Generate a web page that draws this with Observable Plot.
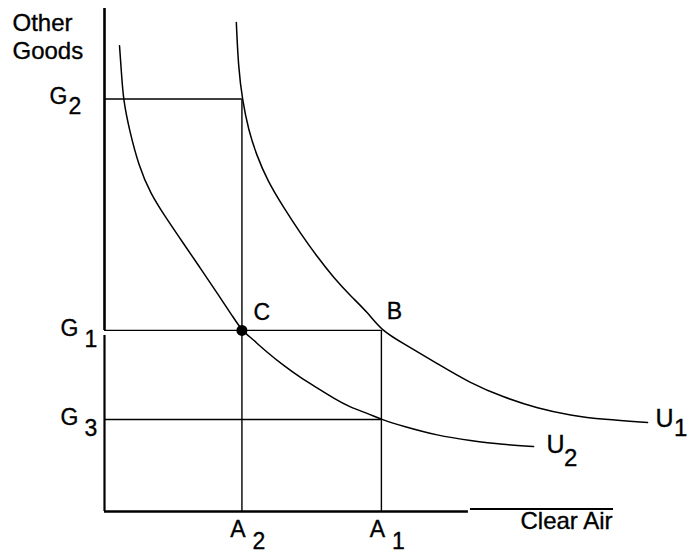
<!DOCTYPE html>
<html><head><meta charset="utf-8">
<script src="https://cdn.jsdelivr.net/npm/d3@7"></script>
<script src="https://cdn.jsdelivr.net/npm/@observablehq/plot@0.6"></script>
<style>body{margin:0;background:#fff} svg{display:block}</style>
</head><body><div id="chart"></div>
<script>
// Levels of "Other Goods" (y) and "Clear Air" (x), in chart units
const goodsNames = ["G", "G", "G"];
const goodsSubs = ["2", "1", "3"];
const goodsValues = [82, 36, 18.3];
const goodsGuideEnds = [27, 54.4, 54.4];   // each G line runs to this A level
const airNames = ["A", "A"];
const airSubs = ["2", "1"];
const airValues = [27, 54.4];
const airGuideEnds = [82, 36];             // each A line runs up to this G level

// Indifference curves
const u1X = [25.9, 26.3, 27.1, 28.3, 29.9, 32.0, 35.2, 38.5, 41.9, 45.0, 48.3, 51.7, 54.4, 58.7, 65.4, 71.9, 78.4, 85.1, 91.6, 98.0, 106.7];
const u1Y = [97.2, 88.3, 81.7, 75.8, 70.8, 65.8, 60.4, 55.3, 50.5, 46.5, 42.9, 39.6, 36.0, 33.4, 29.4, 25.5, 22.7, 20.5, 19.1, 18.3, 17.7];
const u2X = [2.95, 3.3, 3.7, 4.9, 6.7, 9.0, 12.4, 15.5, 18.9, 22.2, 25.3, 27.0, 28.7, 32.0, 35.2, 38.5, 41.9, 45.0, 48.3, 51.7, 54.4, 58.7, 65.4, 71.9, 78.4, 84.3];
const u2Y = [92.6, 87.7, 81.7, 75.8, 68.8, 63.2, 57.9, 53.3, 48.3, 43.3, 38.6, 36.0, 34.6, 31.6, 29.0, 26.6, 24.5, 22.5, 20.7, 19.5, 18.3, 16.9, 15.1, 14.1, 13.3, 12.9];
const curveNames = ["U", "U"];
const curveSubs = ["1", "2"];

// Labelled points
const pointNames = ["C", "B"];
const pointX = [27, 54.4];
const pointY = [36, 36];

const axisMax = 100;
const font = "'Liberation Sans', Arial, Helvetica, sans-serif";

const curveEnds = [
  {x: u1X[u1X.length - 1], y: u1Y[u1Y.length - 1]},
  {x: u2X[u2X.length - 1], y: u2Y[u2Y.length - 1]}
];
const idx = a => d3.range(a.length);
const ink = {fill: "#000", stroke: "#000", strokeWidth: 0.35};

const chart = Plot.plot({
  width: 690,
  height: 559,
  marginLeft: 104,
  marginRight: 77,
  marginTop: 8,
  marginBottom: 48,
  x: {domain: [0, axisMax], axis: null},
  y: {domain: [0, axisMax], axis: null},
  style: {background: "#fff", color: "#000", fontFamily: font, overflow: "visible"},
  marks: [
    // axes
    Plot.ruleX([0], {y1: 0, y2: 35, stroke: "#000", strokeWidth: 2.2}),
    Plot.ruleX([0], {y1: 36, y2: axisMax, stroke: "#000", strokeWidth: 2.6}),
    Plot.ruleY([0], {x1: 0, x2: 71.5, stroke: "#000", strokeWidth: 2.4}),
    Plot.ruleY([0.5], {x1: 71.9, x2: axisMax, stroke: "#000", strokeWidth: 2.2}),
    // guide lines
    Plot.ruleY(idx(goodsValues), {y: i => goodsValues[i], x1: 0, x2: i => goodsGuideEnds[i], stroke: "#000", strokeWidth: 1.4}),
    Plot.ruleX(idx(airValues), {x: i => airValues[i], y1: 0, y2: i => airGuideEnds[i], stroke: "#000", strokeWidth: 1.4}),
    // indifference curves
    Plot.line(idx(u1X), {x: i => u1X[i], y: i => u1Y[i], curve: "basis", stroke: "#000", strokeWidth: 1.5}),
    Plot.line(idx(u2X), {x: i => u2X[i], y: i => u2Y[i], curve: "basis", stroke: "#000", strokeWidth: 1.5}),
    // point C
    Plot.dot([0], {x: pointX[0], y: pointY[0], r: 5.5, fill: "#000", stroke: "none"}),
    // point labels
    Plot.text(idx(pointNames), {x: i => pointX[i], y: i => pointY[i], text: i => pointNames[i],
      filter: i => i === 0, dx: 20, dy: -18, fontSize: 23, ...ink}),
    Plot.text(idx(pointNames), {x: i => pointX[i], y: i => pointY[i], text: i => pointNames[i],
      filter: i => i === 1, dx: 13, dy: -19, fontSize: 23, ...ink}),
    // G labels
    Plot.text(idx(goodsValues), {x: 0, y: i => goodsValues[i], text: i => goodsNames[i],
      filter: i => i === 0, textAnchor: "end", dx: -37, dy: -2, fontSize: 23, ...ink}),
    Plot.text(idx(goodsValues), {x: 0, y: i => goodsValues[i], text: i => goodsSubs[i],
      filter: i => i === 0, textAnchor: "start", dx: -36, dy: 8, fontSize: 23, ...ink}),
    Plot.text(idx(goodsValues), {x: 0, y: i => goodsValues[i], text: i => goodsNames[i],
      filter: i => i > 0, textAnchor: "end", dx: -26, dy: -2, fontSize: 23, ...ink}),
    Plot.text(idx(goodsValues), {x: 0, y: i => goodsValues[i], text: i => goodsSubs[i],
      filter: i => i > 0, textAnchor: "start", dx: -20, dy: 9, fontSize: 23, ...ink}),
    // A labels
    Plot.text(idx(airValues), {x: i => airValues[i], y: 0, text: i => airNames[i],
      dx: -4, dy: 18, fontSize: 23, ...ink}),
    Plot.text(idx(airValues), {x: i => airValues[i], y: 0, text: i => airSubs[i],
      dx: 17, dy: 30, fontSize: 23, ...ink}),
    // U labels
    Plot.text(idx(curveNames), {x: i => curveEnds[i].x, y: i => curveEnds[i].y, text: i => curveNames[i],
      filter: i => i === 0, dx: 17, dy: -3, fontSize: 25, ...ink}),
    Plot.text(idx(curveNames), {x: i => curveEnds[i].x, y: i => curveEnds[i].y, text: i => curveSubs[i],
      filter: i => i === 0, dx: 33, dy: 6, fontSize: 24, ...ink}),
    Plot.text(idx(curveNames), {x: i => curveEnds[i].x, y: i => curveEnds[i].y, text: i => curveNames[i],
      filter: i => i === 1, dx: 22, dy: -2, fontSize: 25, ...ink}),
    Plot.text(idx(curveNames), {x: i => curveEnds[i].x, y: i => curveEnds[i].y, text: i => curveSubs[i],
      filter: i => i === 1, dx: 37, dy: 12, fontSize: 24, ...ink}),
    // axis titles
    Plot.text(["Other\nGoods"], {frameAnchor: "top-left", dx: -92, dy: 3, textAnchor: "start",
      lineAnchor: "top", lineHeight: 1.15, fontSize: 24, ...ink}),
    Plot.text(["Clear Air"], {frameAnchor: "bottom-right", dx: -1, dy: 17, textAnchor: "end",
      fontSize: 24, ...ink})
  ]
});
document.getElementById("chart").append(chart);
</script>
</body></html>
